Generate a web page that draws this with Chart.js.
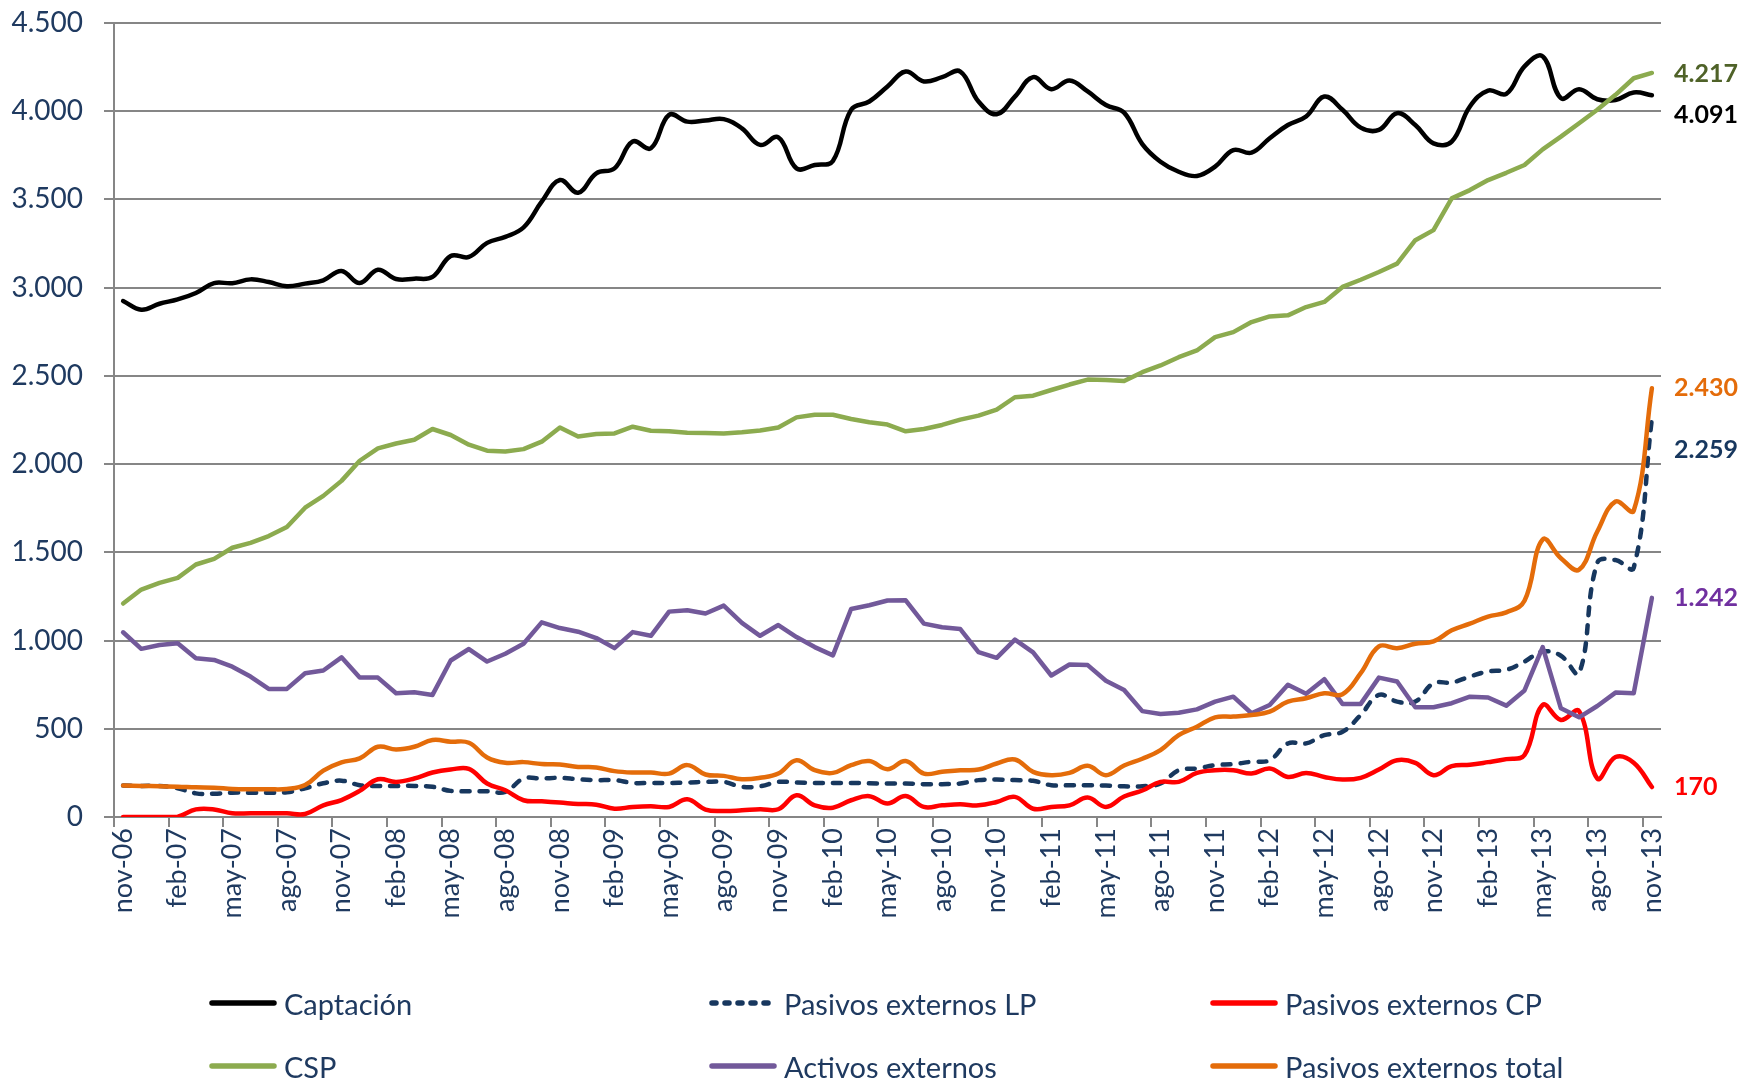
<!DOCTYPE html>
<html lang="es">
<head>
<meta charset="UTF-8">
<title>Captación, CSP y pasivos externos</title>
<script src="https://cdn.jsdelivr.net/npm/chart.js"></script>
<style>
	body {
		margin: 0;
		background: #fff;
		font-family: Lato, "Open Sans", sans-serif;
	}

	#wrap {
		position: relative;
		width: 1747px;
		height: 1081px;
	}

	#legend .item {
		position: absolute;
		display: flex;
		align-items: center;
		height: 40px;
		font-size: 29px;
		color: #1F3A60;
		white-space: nowrap;
	}

	#legend svg {
		margin-right: 6px;
	}
</style>
</head>
<body>
<div id="wrap">
	<canvas id="chart" width="1747" height="1081"></canvas>
	<div id="legend"></div>
</div>

<script>
	// meses nov-06 .. nov-13 (85 datos mensuales)
	const meses = ['ene', 'feb', 'mar', 'abr', 'may', 'jun', 'jul', 'ago', 'sep', 'oct', 'nov', 'dic'];
	const labels = [];
	for (let k = 10; k <= 94; k++) {
		const yy = 6 + Math.floor(k / 12);
		labels.push(meses[k % 12] + '-' + String(yy).padStart(2, '0'));
	}

	const captacion = [2924, 2875, 2909, 2934, 2970, 3026, 3025, 3047, 3032, 3008, 3023, 3042, 3095, 3026, 3102, 3049, 3051,
		3061, 3180, 3174, 3254, 3288, 3341, 3487, 3610, 3538, 3648, 3676, 3828, 3790, 3979, 3941, 3947, 3955, 3903, 3809,
		3852, 3676, 3695, 3718, 4008, 4055, 4140, 4225, 4169, 4193, 4225, 4055, 3983, 4083, 4193, 4125, 4174, 4112, 4035,
		3992, 3814, 3714, 3657, 3633, 3686, 3780, 3765, 3847, 3922, 3970, 4083, 4008, 3907, 3894, 3989, 3922, 3818, 3828,
		4027, 4117, 4098, 4254, 4311, 4074, 4125, 4068, 4064, 4106, 4091];

	const pasivosLP = [178, 176, 176, 163, 134, 132, 138, 138, 138, 140, 163, 191, 206, 180, 176, 176, 176, 171, 148, 146,
		146, 142, 218, 218, 222, 214, 209, 209, 193, 193, 193, 195, 199, 199, 171, 174, 199, 195, 193, 193, 193, 191, 190,
		190, 186, 186, 190, 209, 212, 209, 205, 180, 180, 180, 178, 174, 174, 190, 265, 275, 294, 300, 313, 322, 417, 417,
		464, 483, 578, 692, 654, 654, 758, 762, 796, 825, 834, 881, 938, 914, 815, 1441, 1456, 1412, 2259];

	const pasivosCP = [0, 0, 0, 2, 43, 43, 21, 21, 21, 21, 17, 66, 96, 148, 214, 199, 218, 252, 269, 273, 190, 152, 95, 89,
		82, 74, 70, 47, 57, 61, 57, 100, 42, 34, 38, 44, 44, 123, 66, 53, 95, 118, 76, 119, 57, 66, 72, 66, 85, 114, 47, 57,
		66, 110, 57, 116, 150, 199, 199, 250, 265, 265, 246, 275, 227, 250, 227, 212, 222, 269, 322, 307, 237, 288, 296,
		311, 328, 351, 635, 550, 600, 218, 340, 308, 170];

	const csp = [1210, 1289, 1327, 1355, 1431, 1463, 1526, 1554, 1592, 1644, 1753, 1820, 1905, 2019, 2089, 2117, 2138, 2199,
		2165, 2110, 2076, 2072, 2085, 2127, 2208, 2157, 2171, 2174, 2212, 2189, 2186, 2178, 2176, 2174, 2180, 2190, 2208,
		2265, 2280, 2280, 2256, 2237, 2224, 2186, 2199, 2222, 2252, 2275, 2309, 2379, 2388, 2420, 2451, 2479, 2477, 2471,
		2521, 2559, 2606, 2644, 2720, 2748, 2805, 2837, 2843, 2890, 2919, 3004, 3045, 3089, 3136, 3269, 3326, 3506, 3553,
		3610, 3651, 3695, 3784, 3856, 3932, 4008, 4093, 4187, 4217];

	const activos = [1047, 953, 975, 985, 900, 890, 852, 796, 726, 726, 815, 830, 905, 790, 790, 701, 707, 692, 887, 952,
		881, 925, 982, 1103, 1071, 1050, 1014, 957, 1048, 1027, 1164, 1172, 1153, 1198, 1100, 1027, 1088, 1020, 963, 916,
		1179, 1200, 1227, 1228, 1096, 1075, 1065, 935, 902, 1005, 933, 802, 864, 861, 772, 720, 600, 584, 591, 610, 654,
		682, 588, 635, 749, 698, 781, 641, 641, 790, 768, 622, 622, 645, 682, 677, 631, 717, 963, 616, 565, 629, 705, 701,
		1242];

	const pasivosTotal = [178, 176, 174, 172, 168, 166, 159, 157, 157, 159, 181, 263, 310, 332, 398, 383, 398, 436, 427, 421,
		337, 307, 311, 300, 298, 284, 281, 260, 252, 252, 246, 294, 241, 233, 214, 222, 246, 322, 265, 250, 294, 317, 271,
		317, 246, 256, 265, 269, 303, 326, 256, 237, 250, 290, 237, 292, 330, 379, 464, 512, 565, 569, 578, 597, 654, 673,
		701, 696, 815, 967, 957, 982, 995, 1058, 1096, 1136, 1160, 1225, 1573, 1467, 1402, 1618, 1788, 1736, 2430];

	const yTicks = [0, 4500, 500]; // min, max, paso

	const fmt = v => String(v).replace(/\B(?=(\d{3})+(?!\d))/g, '.');

	const series = [
		{ label: 'Captación', data: captacion, color: '#000000', tension: 0.4, labelColor: '#000000', dy: 20 },
		{ label: 'Pasivos externos LP', data: pasivosLP, color: '#17375E', tension: 0.4, dash: [8, 10], labelColor: '#17375E', dy: 32 },
		{ label: 'Pasivos externos CP', data: pasivosCP, color: '#FF0000', tension: 0.4, labelColor: '#FF0000', dy: 0 },
		{ label: 'CSP', data: csp, color: '#8CAB4F', tension: 0, labelColor: '#4F6228', dy: 1 },
		{ label: 'Activos externos', data: activos, color: '#72599A', tension: 0, labelColor: '#7030A0', dy: 0 },
		{ label: 'Pasivos externos total', data: pasivosTotal, color: '#E46C0A', tension: 0.4, labelColor: '#E46C0A', dy: 0 }
	];

	Chart.defaults.font.family = 'Lato';

	const endLabels = {
		id: 'endLabels',
		afterDatasetsDraw(chart) {
			const ctx = chart.ctx;
			ctx.save();
			ctx.font = 'bold 25px Lato';
			ctx.textBaseline = 'middle';
			ctx.textAlign = 'left';
			chart.data.datasets.forEach((ds, i) => {
				const meta = chart.getDatasetMeta(i);
				const pt = meta.data[meta.data.length - 1];
				const s = series[i];
				ctx.fillStyle = s.labelColor;
				ctx.fillText(fmt(ds.data[ds.data.length - 1]), chart.chartArea.right + 13, pt.y + s.dy);
			});
			ctx.restore();
		}
	};

	const chart = new Chart(document.getElementById('chart'), {
		type: 'line',
		data: {
			labels: labels,
			datasets: series.map((s, i) => ({
				label: s.label,
				data: s.data,
				borderColor: s.color,
				backgroundColor: s.color,
				borderWidth: 4.5,
				borderDash: s.dash || [],
				borderCapStyle: 'round',
				borderJoinStyle: 'round',
				tension: s.tension,
				pointRadius: 0,
				fill: false,
				order: series.length - i
			}))
		},
		options: {
			responsive: false,
			animation: false,
			layout: { padding: { top: 23, right: 86, bottom: 144, left: 0 } },
			plugins: {
				legend: { display: false },
				tooltip: { enabled: false }
			},
			scales: {
				x: {
					type: 'category',
					offset: true,
					afterFit: s => { s.height = 120; },
					grid: {
						display: true,
						offset: true,
						drawOnChartArea: false,
						drawTicks: true,
						tickLength: 10,
						lineWidth: 2,
						color: c => (c.index % 3 === 0 ? '#868686' : 'rgba(0,0,0,0)')
					},
					border: { display: true, color: '#868686', width: 2 },
					ticks: {
						autoSkip: false,
						minRotation: 90,
						maxRotation: 90,
						padding: 1,
						color: '#1F3A60',
						font: { size: 27 },
						callback: (v, i) => (i % 3 === 0 ? labels[i] : '')
					}
				},
				y: {
					min: yTicks[0],
					max: yTicks[1],
					afterFit: s => {
						s.width = 114;
						s.paddingTop = 0;
						s.paddingBottom = 0;
					},
					grid: { color: '#868686', lineWidth: 2, tickLength: 10 },
					border: { display: true, color: '#868686', width: 2 },
					ticks: {
						stepSize: yTicks[2],
						padding: 21,
						color: '#1F3A60',
						font: { size: 28 },
						callback: v => fmt(v)
					}
				}
			}
		},
		plugins: [endLabels]
	});

	// leyenda en rejilla 3 x 2
	const legend = document.getElementById('legend');
	const cols = [208, 708, 1209];
	const rows = [983, 1046];
	series.forEach((s, i) => {
		const item = document.createElement('div');
		item.className = 'item';
		item.style.left = cols[i % 3] + 'px';
		item.style.top = rows[Math.floor(i / 3)] + 'px';
		const dash = s.dash ? `stroke-dasharray="4 9"` : '';
		item.innerHTML = `<svg width="70" height="10"><line x1="4" y1="5" x2="66" y2="5" stroke="${s.color}" stroke-width="5.5" stroke-linecap="round" ${dash}/></svg><span>${s.label}</span>`;
		legend.appendChild(item);
	});
</script>
</body>
</html>
